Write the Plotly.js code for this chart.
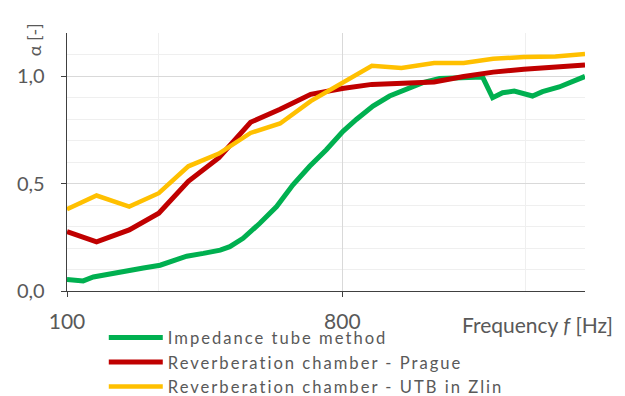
<!DOCTYPE html>
<html><head><meta charset="utf-8">
<script src="https://cdn.plot.ly/plotly-3.0.1.min.js"></script>
<style>html,body{margin:0;padding:0;background:#fff}#chart{width:625px;height:396px}
#chart .legendtext{letter-spacing:2px}
#chart .legend .scrollbox{clip-path:none !important}</style>
</head><body><div id="chart"></div>
<script>
// Impedance tube method (fine resolution)
const tubeFreq  = [100, 113, 122, 139, 157, 178, 202, 229, 247, 280, 318, 342, 378, 429, 487, 551, 625, 709, 804, 889, 1008, 1143, 1296, 1469, 1666, 2088, 2308, 2489, 2684, 2930, 3120, 3364, 3627, 4114, 5000];
const tubeAlpha = [0.053, 0.047, 0.065, 0.081, 0.093, 0.107, 0.120, 0.143, 0.162, 0.175, 0.190, 0.206, 0.245, 0.315, 0.393, 0.494, 0.580, 0.657, 0.743, 0.798, 0.860, 0.907, 0.938, 0.969, 0.988, 0.993, 0.995, 0.899, 0.922, 0.930, 0.918, 0.907, 0.927, 0.949, 0.998];
// Reverberation chambers (1/3 octave bands)
const bandFreq    = [100, 125, 160, 200, 250, 315, 400, 500, 630, 800, 1000, 1250, 1600, 2000, 2500, 3150, 4000, 5000];
const pragueAlpha = [0.276, 0.229, 0.284, 0.362, 0.510, 0.620, 0.785, 0.845, 0.915, 0.942, 0.961, 0.965, 0.972, 0.998, 1.018, 1.031, 1.043, 1.051];
const zlinAlpha   = [0.380, 0.444, 0.393, 0.455, 0.580, 0.639, 0.735, 0.779, 0.883, 0.970, 1.048, 1.037, 1.060, 1.061, 1.080, 1.088, 1.091, 1.102];
const seriesNames = ['Impedance tube method', 'Reverberation chamber - Prague', 'Reverberation chamber - UTB in Zlin'];
const seriesColors = ['#00B050', '#C00000', '#FFC000'];
const xTickVals = [100, 800];
const xTickText = ['100', '800'];
const xMinorVals = [200, 3200];
const yTickVals = [0, 0.5, 1.0];
const xRange = [100, 5000];
const yRange = [0, 1.2];

const FONT = 'Lato, "Open Sans", sans-serif';
const TXT = '#595959';

const traces = [
  {x: tubeFreq, y: tubeAlpha, name: seriesNames[0], line: {color: seriesColors[0], width: 5}},
  {x: bandFreq, y: pragueAlpha, name: seriesNames[1], line: {color: seriesColors[1], width: 5}},
  {x: bandFreq, y: zlinAlpha, name: seriesNames[2], line: {color: seriesColors[2], width: 4.5}}
].map(t => Object.assign({type: 'scatter', mode: 'lines', hoverinfo: 'skip'}, t));

const layout = {
  width: 625, height: 396,
  margin: {l: 67, r: 40, t: 33, b: 105, autoexpand: false},
  paper_bgcolor: '#fff', plot_bgcolor: '#fff',
  separators: ', ',
  font: {family: FONT, size: 20, color: TXT},
  showlegend: true,
  legend: {x: 0.071, xanchor: 'left', y: -0.113, yanchor: 'top', itemwidth: 54,
           font: {family: FONT, size: 16.6, color: TXT},
           bgcolor: 'rgba(0,0,0,0)', tracegroupgap: 0},
  xaxis: {
    type: 'log', range: xRange.map(Math.log10),
    tickvals: xTickVals, ticktext: xTickText,
    ticks: 'outside', ticklen: 5, tickcolor: '#404040', ticklabelstandoff: 6,
    showline: true, linecolor: '#404040', linewidth: 1.3,
    showgrid: true, gridcolor: '#d9d9d9', gridwidth: 1,
    minor: {tickvals: xMinorVals, showgrid: true, gridcolor: '#efefef', ticks: ''},
    zeroline: false, tickfont: {family: FONT, size: 21, color: TXT}
  },
  yaxis: {
    range: yRange, tickvals: yTickVals, tickformat: '.1f',
    ticks: 'outside', ticklen: 5, tickcolor: '#404040', ticklabelstandoff: 12,
    showline: true, linecolor: '#404040', linewidth: 1.3,
    showgrid: true, gridcolor: '#d9d9d9', gridwidth: 1,
    minor: {dtick: 0.1, showgrid: true, gridcolor: '#efefef', ticks: ''},
    zeroline: false, tickfont: {family: FONT, size: 20, color: TXT}
  },
  annotations: [
    {text: 'α [-]', xref: 'paper', yref: 'paper', x: -0.062, y: 0.975, textangle: -90,
     showarrow: false, xanchor: 'center', yanchor: 'middle', font: {family: FONT, size: 18, color: TXT}},
    {text: 'Frequency <i>f</i> [Hz]', xref: 'paper', yref: 'paper', x: 1.058, y: -0.13,
     showarrow: false, xanchor: 'right', yanchor: 'middle', font: {family: FONT, size: 21, color: TXT}}
  ]
};

Plotly.newPlot('chart', traces, layout, {displayModeBar: false, staticPlot: true});
</script></body></html>
